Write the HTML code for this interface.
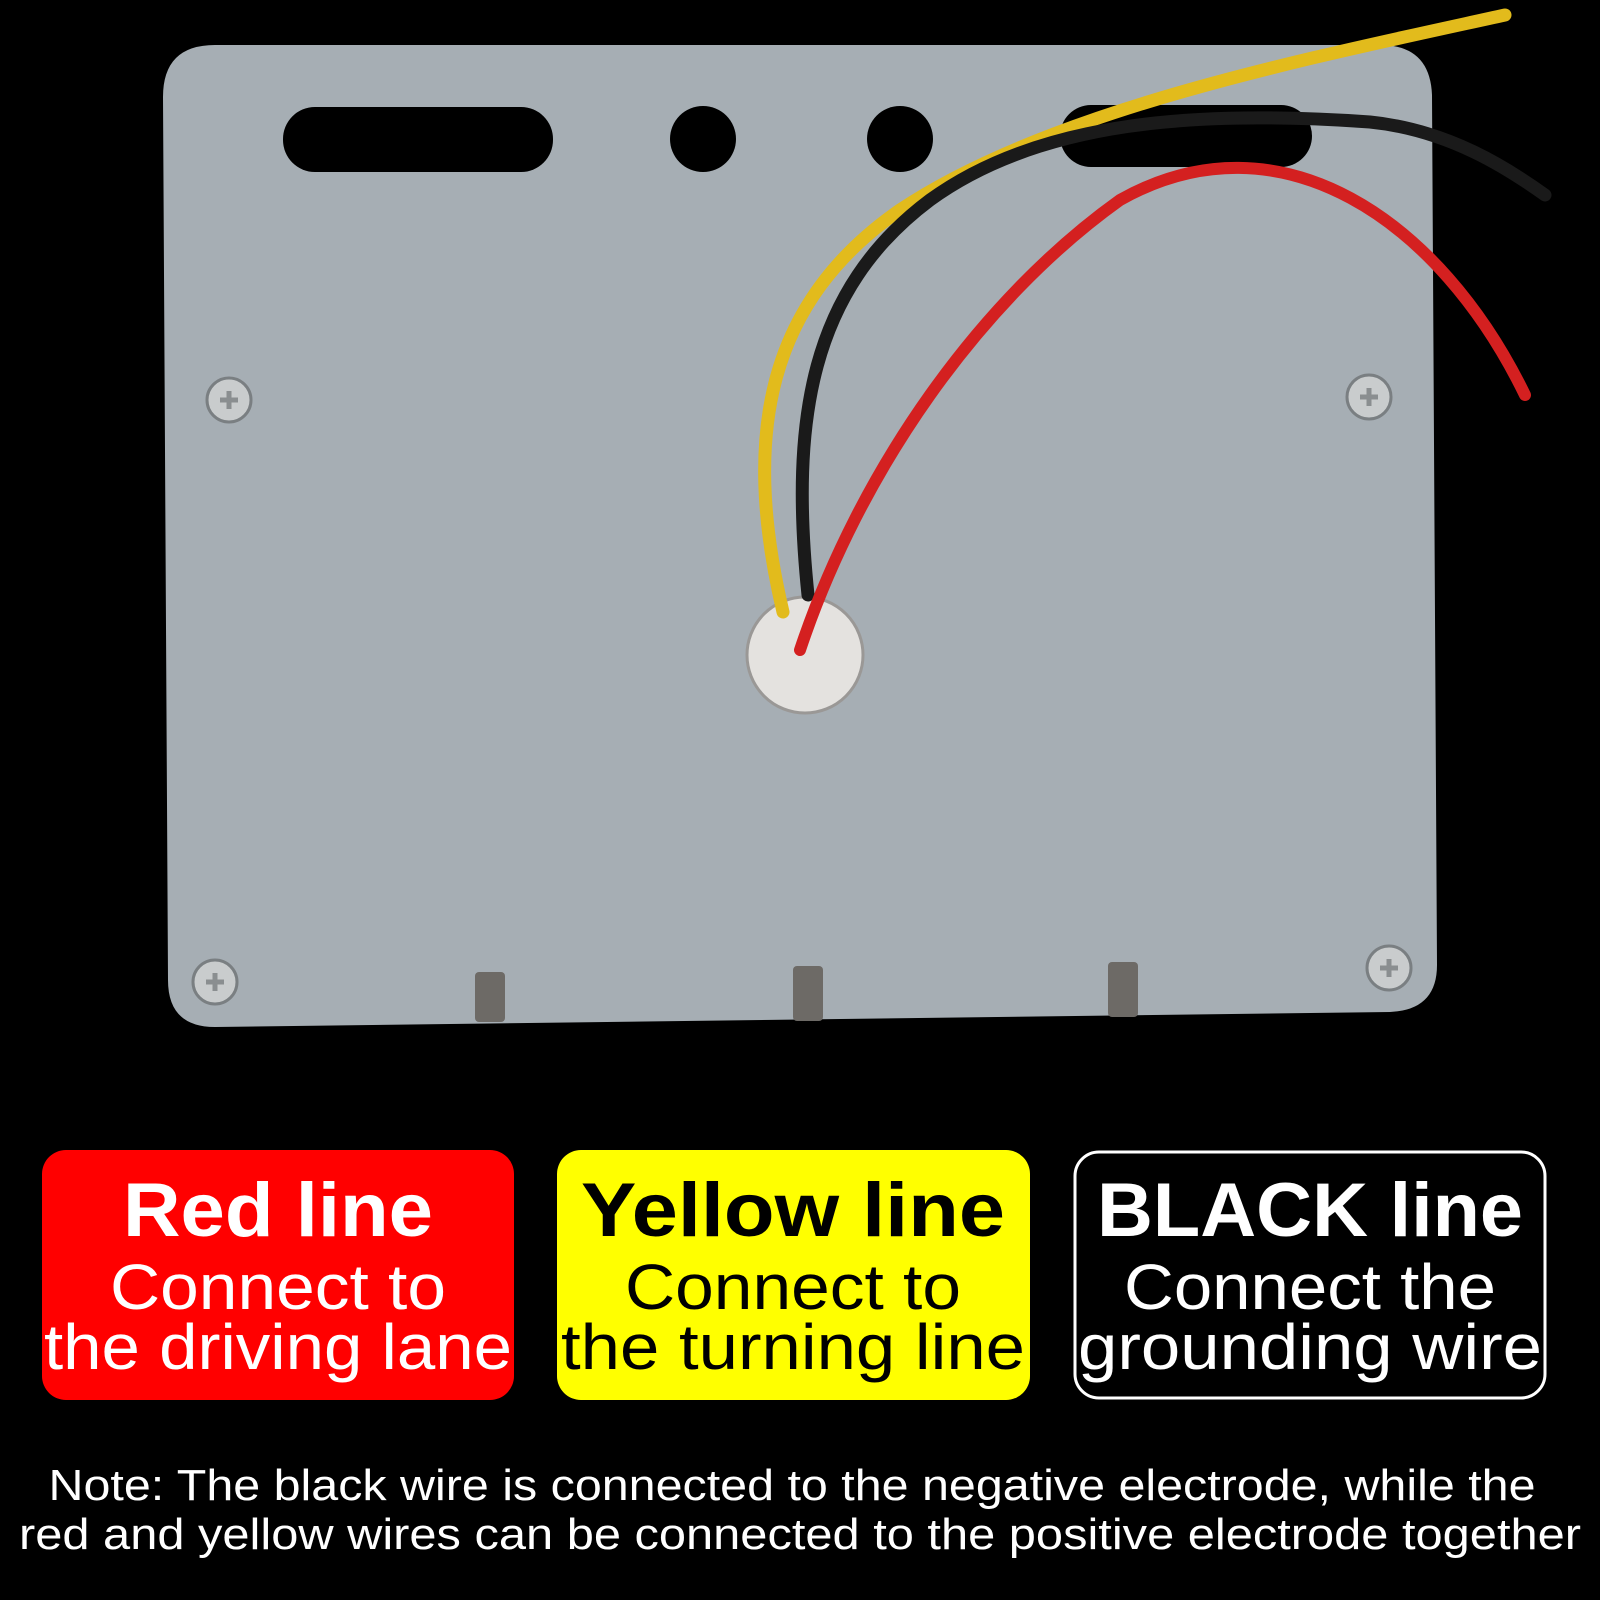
<!DOCTYPE html>
<html><head><meta charset="utf-8"><style>
html,body{margin:0;padding:0;background:#000;}
svg{display:block}
</style></head><body>
<svg width="1600" height="1600" viewBox="0 0 1600 1600" xmlns="http://www.w3.org/2000/svg">
<rect width="1600" height="1600" fill="#000"/>
<path d="M215 45 L1380 45 Q1430 45 1432 95 L1437 965 Q1437 1010 1390 1012 L215 1027 Q168 1027 168 980 L163 97 Q163 45 215 45 Z" fill="#a6aeb4"/>
<rect x="283" y="107" width="270" height="65" rx="32" fill="#000"/>
<circle cx="703" cy="139" r="33" fill="#000"/>
<circle cx="900" cy="139" r="33" fill="#000"/>
<rect x="1060" y="105" width="252" height="62" rx="31" fill="#000"/>
<rect x="475" y="972" width="30" height="50" rx="4" fill="#6d6a66"/>
<rect x="793" y="966" width="30" height="55" rx="4" fill="#6d6a66"/>
<rect x="1108" y="962" width="30" height="55" rx="4" fill="#6d6a66"/>
<g fill="#c9cccd" stroke="#7a7f82" stroke-width="3">
<circle cx="229" cy="400" r="22"/><circle cx="1369" cy="397" r="22"/>
<circle cx="215" cy="982" r="22"/><circle cx="1389" cy="968" r="22"/>
</g>
<g stroke="#8a8e90" stroke-width="5">
<path d="M220 400h18M229 391v18M1360 397h18M1369 388v18M206 982h18M215 973v18M1380 968h18M1389 959v18"/>
</g>
<circle cx="805" cy="655" r="58" fill="#e4e2df" stroke="#9a9896" stroke-width="3"/>
<path d="M783 612 C740 430 770 300 900 210 C1050 110 1300 60 1505 15" fill="none" stroke="#e2bb1c" stroke-width="13" stroke-linecap="round"/>
<path d="M808 595 C790 420 810 290 930 200 C1040 120 1200 110 1370 122 C1450 130 1510 170 1545 195" fill="none" stroke="#1a1a1a" stroke-width="13" stroke-linecap="round"/>
<path d="M800 650 C860 470 980 300 1120 200 C1280 110 1440 220 1525 395" fill="none" stroke="#d42020" stroke-width="12" stroke-linecap="round"/>
<rect x="42" y="1150" width="472" height="250" rx="24" fill="#ff0000"/>
<rect x="557" y="1150" width="473" height="250" rx="24" fill="#ffff00"/>
<rect x="1075" y="1152" width="470" height="246" rx="24" fill="#000" stroke="#fff" stroke-width="3"/>
<g font-family="Liberation Sans, sans-serif" text-anchor="middle">
<text x="278" y="1236" font-size="76" font-weight="bold" fill="#fff" textLength="310" lengthAdjust="spacingAndGlyphs">Red line</text>
<text x="278" y="1309" font-size="64" fill="#fff" textLength="336" lengthAdjust="spacingAndGlyphs">Connect to</text>
<text x="278" y="1369" font-size="64" fill="#fff" textLength="468" lengthAdjust="spacingAndGlyphs">the driving lane</text>
<text x="793" y="1236" font-size="76" font-weight="bold" fill="#000" textLength="424" lengthAdjust="spacingAndGlyphs">Yellow line</text>
<text x="793" y="1309" font-size="64" fill="#000" textLength="336" lengthAdjust="spacingAndGlyphs">Connect to</text>
<text x="793" y="1369" font-size="64" fill="#000" textLength="464" lengthAdjust="spacingAndGlyphs">the turning line</text>
<text x="1310" y="1236" font-size="76" font-weight="bold" fill="#fff" textLength="426" lengthAdjust="spacingAndGlyphs">BLACK line</text>
<text x="1310" y="1309" font-size="64" fill="#fff" textLength="372" lengthAdjust="spacingAndGlyphs">Connect the</text>
<text x="1310" y="1369" font-size="64" fill="#fff" textLength="464" lengthAdjust="spacingAndGlyphs">grounding wire</text>
<text x="792" y="1500" font-size="44" fill="#fff" textLength="1487" lengthAdjust="spacingAndGlyphs">Note: The black wire is connected to the negative electrode, while the</text>
<text x="800" y="1549" font-size="44" fill="#fff" textLength="1562" lengthAdjust="spacingAndGlyphs">red and yellow wires can be connected to the positive electrode together</text>
</g>
</svg>
</body></html>
